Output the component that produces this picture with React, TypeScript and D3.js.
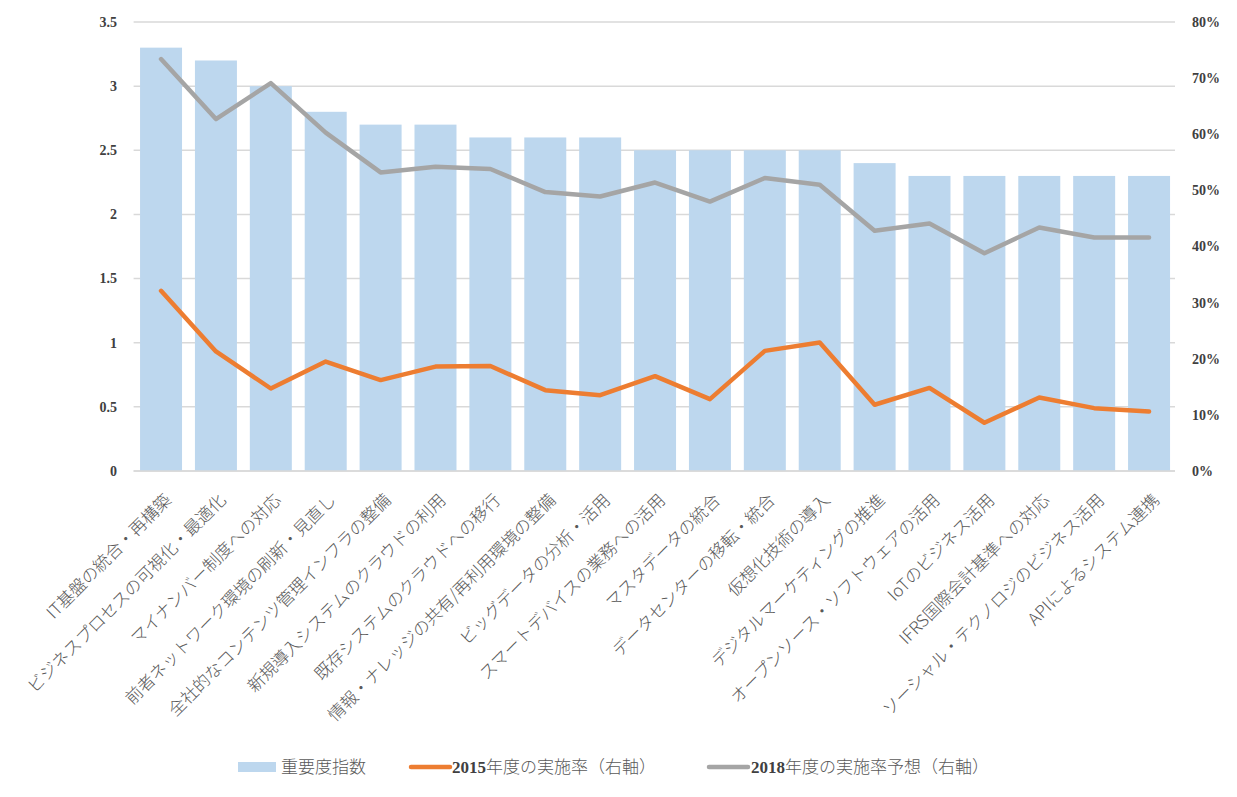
import React from "react";
import * as d3 from "d3";

const categories = [
  "IT基盤の統合・再構築",
  "ビジネスプロセスの可視化・最適化",
  "マイナンバー制度への対応",
  "前者ネットワーク環境の刷新・見直し",
  "全社的なコンテンツ管理インフラの整備",
  "新規導入システムのクラウドの利用",
  "既存システムのクラウドへの移行",
  "情報・ナレッジの共有/再利用環境の整備",
  "ビッグデータの分析・活用",
  "スマートデバイスの業務への活用",
  "マスタデータの統合",
  "データセンターの移転・統合",
  "仮想化技術の導入",
  "デジタルマーケティングの推進",
  "オープンソース・ソフトウェアの活用",
  "IoTのビジネス活用",
  "IFRS国際会計基準への対応",
  "ソーシャル・テクノロジのビジネス活用",
  "APIによるシステム連携",
];

const importance = [3.3, 3.2, 3.0, 2.8, 2.7, 2.7, 2.6, 2.6, 2.6, 2.5, 2.5, 2.5, 2.5, 2.4, 2.3, 2.3, 2.3, 2.3, 2.3];

const rate2015 = [
  0.321, 0.213, 0.147, 0.195, 0.162, 0.186, 0.187, 0.144, 0.135, 0.169,
  0.128, 0.214, 0.229, 0.118, 0.148, 0.086, 0.131, 0.112, 0.106,
];

const rate2018 = [
  0.734, 0.627, 0.691, 0.603, 0.532, 0.542, 0.538, 0.497, 0.489, 0.514,
  0.48, 0.522, 0.51, 0.428, 0.441, 0.388, 0.434, 0.416, 0.416,
];

const leftTicks = [0, 0.5, 1, 1.5, 2, 2.5, 3, 3.5];
const rightTicks = [0, 0.1, 0.2, 0.3, 0.4, 0.5, 0.6, 0.7, 0.8];

const W = 1237;
const H = 797;
const left = 133.6;
const right = 1176.5;
const top = 22;
const bottom = 471;

const jpFont = "'Noto Sans CJK JP', 'Noto Sans', sans-serif";
const numFont = "'Liberation Serif', 'DejaVu Serif', serif";

export default function App() {
  const x = d3.scaleBand<string>().domain(categories).range([left, right]).paddingInner(0.235).paddingOuter(0.1175);
  const yL = d3.scaleLinear().domain([0, 3.5]).range([bottom, top]);
  const yR = d3.scaleLinear().domain([0, 0.8]).range([bottom, top]);
  const cx = (i: number) => (x(categories[i]) as number) + x.bandwidth() / 2;

  const line = d3
    .line<number>()
    .x((_, i) => cx(i))
    .y((d) => yR(d));

  return (
    <svg width={W} height={H} style={{ position: "absolute", left: 0, top: 0, background: "#fff" }}>
      {leftTicks.map((t) => (
        <line key={"g" + t} x1={left} x2={right - 1.5} y1={yL(t)} y2={yL(t)} stroke="#d9d9d9" strokeWidth={1.5} />
      ))}
      {importance.map((v, i) => (
        <rect key={"b" + i} x={x(categories[i])} y={yL(v)} width={x.bandwidth()} height={bottom - yL(v)} fill="#bdd7ee" />
      ))}
      <line x1={left} x2={right - 1.5} y1={bottom} y2={bottom} stroke="#d9d9d9" strokeWidth={1.5} />
      <path d={line(rate2018) || ""} fill="none" stroke="#a5a5a5" strokeWidth={4.5} strokeLinejoin="round" strokeLinecap="round" />
      <path d={line(rate2015) || ""} fill="none" stroke="#ed7d31" strokeWidth={4.5} strokeLinejoin="round" strokeLinecap="round" />

      {leftTicks.map((t) => (
        <text key={"l" + t} x={117} y={yL(t)} dy="0.35em" textAnchor="end" fontFamily={numFont} fontWeight="bold" fontSize={14} fill="#404040">
          {t}
        </text>
      ))}
      {rightTicks.map((t) => (
        <text key={"r" + t} x={1192} y={yR(t)} dy="0.35em" textAnchor="start" fontFamily={numFont} fontWeight="bold" fontSize={14} fill="#404040">
          {Math.round(t * 100) + "%"}
        </text>
      ))}

      {categories.map((c, i) => (
        <text
          key={"c" + i}
          transform={`translate(${cx(i) + 7},${bottom + 26}) rotate(-45)`}
          textAnchor="end"
          dy="0.35em"
          fontFamily={jpFont}
          fontWeight={300}
          fontSize={17}
          fill="#595959"
        >
          {c}
        </text>
      ))}

      <g fontFamily={jpFont} fontWeight={300} fontSize={17} fill="#595959">
        <rect x={238} y={762} width={38} height={10} fill="#bdd7ee" />
        <text x={281} y={767} dy="0.35em">重要度指数</text>
        <line x1={411} x2={450} y1={767} y2={767} stroke="#ed7d31" strokeWidth={4.5} strokeLinecap="round" />
        <text x={452} y={767} dy="0.35em">
          <tspan fontFamily={numFont} fontWeight="bold" fill="#404040">2015</tspan>年度の実施率（右軸）
        </text>
        <line x1={709} x2={748} y1={767} y2={767} stroke="#a5a5a5" strokeWidth={4.5} strokeLinecap="round" />
        <text x={751} y={767} dy="0.35em">
          <tspan fontFamily={numFont} fontWeight="bold" fill="#404040">2018</tspan>年度の実施率予想（右軸）
        </text>
      </g>
    </svg>
  );
}
